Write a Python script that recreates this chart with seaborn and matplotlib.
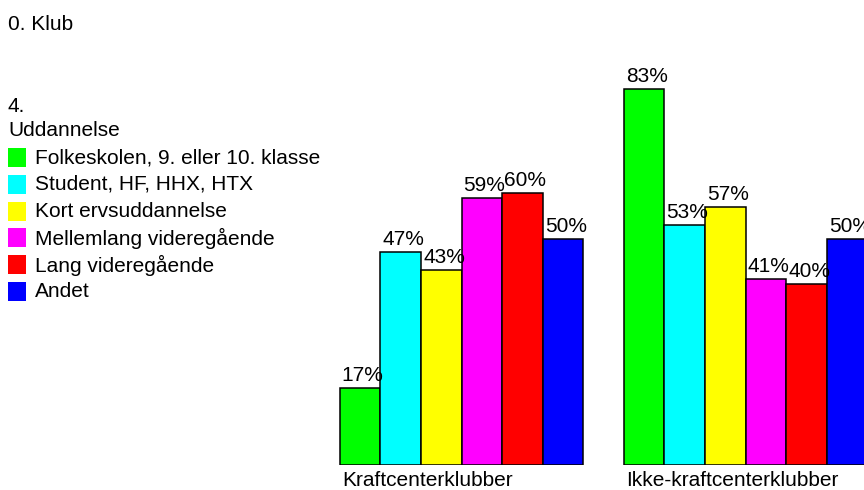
import matplotlib
matplotlib.use("Agg")
import matplotlib.pyplot as plt
from matplotlib.patches import Rectangle
import seaborn as sns
import pandas as pd

groups = ["Kraftcenterklubber", "Ikke-kraftcenterklubber"]
levels = ["Folkeskolen, 9. eller 10. klasse", "Student, HF, HHX, HTX", "Kort ervsuddannelse",
          "Mellemlang videregående", "Lang videregående", "Andet"]
values_kraft = [17, 47, 43, 59, 60, 50]
values_ikke = [83, 53, 57, 41, 40, 50]
colors = ["#00ff00", "#00ffff", "#ffff00", "#ff00ff", "#ff0000", "#0000ff"]
title_text = "0. Klub"
legend_title = ["4.", "Uddannelse"]

rows = []
for g, vals in zip(groups, [values_kraft, values_ikke]):
    for lvl, v in zip(levels, vals):
        rows.append({"Klub": g, "Uddannelse": lvl, "Pct": v})
df = pd.DataFrame(rows)

sns.set_theme(style="white")
FONT = ["Liberation Sans", "DejaVu Sans"]
plt.rcParams["font.family"] = FONT
plt.rcParams["text.color"] = "black"

W, H = 864, 490
fig = plt.figure(figsize=(W / 100, H / 100), dpi=100)
fig.patch.set_facecolor("white")
# axes: bottom at baseline (465 px from top)
ax = fig.add_axes([0, 25 / H, 1, 1 - 25 / H])
sns.barplot(data=df, x="Klub", y="Pct", hue="Uddannelse", order=groups, hue_order=levels,
            palette=colors, width=6 / 7, edgecolor="black", linewidth=1.1,
            saturation=1, legend=False, ax=ax, errorbar=None)
px_per_unit = 284.0
cx0 = 461.5
ax.set_xlim(-cx0 / px_per_unit, (W - cx0) / px_per_unit)
ax.set_ylim(0, 465 / 4.53)
ax.axis("off")

fs = 15
for cont in ax.containers:
    for bar in cont:
        h = bar.get_height()
        ax.annotate(f"{int(round(h))}%", (bar.get_x(), h), xytext=(1.5, 2),
                    textcoords="offset points", ha="left", va="bottom", fontsize=fs,
                    color="black", clip_on=False)

first = ax.containers[0]
for bar, g in zip(first, groups):
    ax.annotate(g, (bar.get_x(), 0), xytext=(1.5, -4), textcoords="offset points",
                ha="left", va="top", fontsize=fs, color="black", annotation_clip=False)

def fy(ypx):
    return 1 - ypx / H

fig.text(8 / W, fy(25), title_text, fontsize=fs, va="center", ha="left", color="black")
fig.text(8 / W, fy(107), legend_title[0], fontsize=fs, va="center", ha="left", color="black")
fig.text(8 / W, fy(131), legend_title[1], fontsize=fs, va="center", ha="left", color="black")
ys = [157.5, 184.5, 211.5, 238, 265, 291.5]
for lvl, c, y in zip(levels, colors, ys):
    fig.patches.append(Rectangle((8 / W, fy(y + 9.5)), 18 / W, 19 / H, transform=fig.transFigure,
                                 facecolor=c, edgecolor="none", figure=fig))
    fig.text(35 / W, fy(y), lvl, fontsize=fs, va="center", ha="left", color="black")

fig.savefig("out.png", dpi=100, facecolor="white")
